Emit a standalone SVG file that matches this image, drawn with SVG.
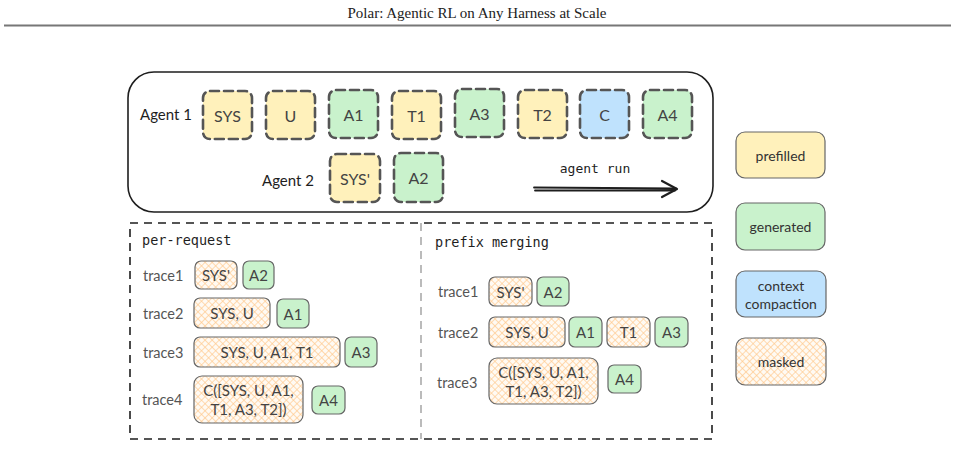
<svg xmlns="http://www.w3.org/2000/svg" width="955" height="471" viewBox="0 0 955 471">
<style>
.hdr{font-family:"Liberation Serif",serif;font-size:15px;fill:#222}
.tok{stroke:#555;stroke-width:2.6;stroke-dasharray:9 5;stroke-linecap:round}
.pf{fill:#fff1bb}.gn{fill:#c9f2cc}.bl{fill:#bfe2fd}
.lbl{font-family:"Lato","Open Sans",sans-serif;font-size:15px;fill:#444;text-anchor:middle;dominant-baseline:central}
.big{font-size:16px}
.agent{font-family:"Lato","Open Sans",sans-serif;font-size:15px;fill:#1e1e1e;dominant-baseline:central}
.trc{font-family:"Lato","Open Sans",sans-serif;font-size:14.5px;fill:#555;dominant-baseline:central}
.sm{stroke:#666;stroke-width:1.2}
.msk{fill:url(#hatch)}
.mono{font-family:"DejaVu Sans Mono",monospace;font-size:13.5px;fill:#1e1e1e}
.leg{font-family:"Lato","Open Sans",sans-serif;font-size:14px;fill:#333;text-anchor:middle;dominant-baseline:central}
.frame{fill:none;stroke:#1e1e1e;stroke-width:1.6;stroke-dasharray:8 6}
</style>
<defs>
<pattern id="hatch" width="5" height="5" patternUnits="userSpaceOnUse" patternTransform="rotate(45)">
<rect width="5" height="5" fill="#fffaf3"/>
<line x1="0" y1="0" x2="0" y2="5" stroke="#ffc88a" stroke-width="1.3"/>
<line x1="0" y1="0" x2="5" y2="0" stroke="#ffc88a" stroke-width="1.3"/>
</pattern>
</defs>
<rect width="955" height="471" fill="#fff"/>
<text class="hdr" x="477" y="18" text-anchor="middle">Polar: Agentic RL on Any Harness at Scale</text>
<line x1="4" y1="25.5" x2="951" y2="25.5" stroke="#777" stroke-width="2"/>

<g id="agent-panel">
<rect x="128" y="72" width="585" height="140" rx="26" fill="none" stroke="#1e1e1e" stroke-width="1.6"/>
<text class="agent" x="140" y="114">Agent 1</text>
<text class="agent" x="262" y="180">Agent 2</text>
</g>
<g id="a1-SYS"><rect class="tok pf" x="203" y="91" width="49" height="48" rx="7"/><text class="lbl big" x="227.5" y="115">SYS</text></g>
<g id="a1-U"><rect class="tok pf" x="266" y="91" width="49" height="48" rx="7"/><text class="lbl big" x="290.5" y="115">U</text></g>
<g id="a1-A1"><rect class="tok gn" x="329" y="90" width="49" height="48" rx="7"/><text class="lbl big" x="353.5" y="114">A1</text></g>
<g id="a1-T1"><rect class="tok pf" x="392" y="91" width="49" height="48" rx="7"/><text class="lbl big" x="416.5" y="115">T1</text></g>
<g id="a1-A3"><rect class="tok gn" x="455" y="89" width="49" height="48" rx="7"/><text class="lbl big" x="479.5" y="113">A3</text></g>
<g id="a1-T2"><rect class="tok pf" x="518" y="90" width="49" height="48" rx="7"/><text class="lbl big" x="542.5" y="114">T2</text></g>
<g id="a1-C"><rect class="tok bl" x="580" y="90" width="49" height="48" rx="7"/><text class="lbl big" x="604.5" y="114">C</text></g>
<g id="a1-A4"><rect class="tok gn" x="643" y="90" width="49" height="48" rx="7"/><text class="lbl big" x="667.5" y="114">A4</text></g>
<g id="a2-SYSp"><rect class="tok pf" x="330" y="154" width="50" height="48" rx="7"/><text class="lbl big" x="355" y="178">SYS'</text></g>
<g id="a2-A2"><rect class="tok gn" x="394" y="153" width="49" height="49" rx="7"/><text class="lbl big" x="418.5" y="177">A2</text></g>

<g id="agent-run">
<text x="595" y="173" text-anchor="middle" style="font-family:'DejaVu Sans Mono',monospace;font-size:13px;fill:#1e1e1e">agent run</text>
<path d="M534 187.5 L676 188.5 M535 190.5 L675 190.5" fill="none" stroke="#1e1e1e" stroke-width="1.8" stroke-linecap="round"/>
<path d="M662 181 L677 189 L662 197" fill="none" stroke="#1e1e1e" stroke-width="2.2" stroke-linecap="round" stroke-linejoin="round"/>
</g>

<g id="frames">
<rect class="frame" x="130" y="223" width="582" height="216"/>
<line x1="421" y1="223" x2="421" y2="439" stroke="#1e1e1e" stroke-width="1" stroke-dasharray="8 6" opacity="0.6"/>
<text class="mono" x="142" y="245">per-request</text>
<text class="mono" x="435" y="247">prefix merging</text>
</g>

<g id="pr-trace1"><text class="trc" x="143" y="275">trace1</text>
<rect class="sm msk" x="195" y="261" width="42" height="28" rx="6"/><text class="lbl" x="216" y="275">SYS'</text>
<rect class="sm gn" x="243" y="261" width="31" height="28" rx="6"/><text class="lbl" x="258.5" y="275">A2</text></g>
<g id="pr-trace2"><text class="trc" x="143" y="313">trace2</text>
<rect class="sm msk" x="194" y="298" width="76" height="30" rx="6"/><text class="lbl" x="232" y="313">SYS, U</text>
<rect class="sm gn" x="277" y="299" width="32" height="29" rx="6"/><text class="lbl" x="293" y="313.5">A1</text></g>
<g id="pr-trace3"><text class="trc" x="143" y="352">trace3</text>
<rect class="sm msk" x="194" y="337" width="146" height="30" rx="6"/><text class="lbl" x="267" y="352">SYS, U, A1, T1</text>
<rect class="sm gn" x="345" y="337" width="32" height="30" rx="6"/><text class="lbl" x="361" y="352">A3</text></g>
<g id="pr-trace4"><text class="trc" x="142" y="399">trace4</text>
<rect class="sm msk" x="194" y="376" width="109" height="47" rx="8"/><text class="lbl" x="248.5" y="390">C([SYS, U, A1,</text><text class="lbl" x="248.5" y="409">T1, A3, T2])</text>
<rect class="sm gn" x="312" y="386" width="33" height="28" rx="6"/><text class="lbl" x="328.5" y="400">A4</text></g>

<g id="pm-trace1"><text class="trc" x="438" y="291">trace1</text>
<rect class="sm msk" x="489" y="277" width="43" height="29" rx="6"/><text class="lbl" x="510.5" y="291.5">SYS'</text>
<rect class="sm gn" x="537" y="277" width="32" height="29" rx="6"/><text class="lbl" x="553" y="291.5">A2</text></g>
<g id="pm-trace2"><text class="trc" x="438" y="332">trace2</text>
<rect class="sm msk" x="489" y="317" width="76" height="30" rx="6"/><text class="lbl" x="527" y="332">SYS, U</text>
<rect class="sm gn" x="569" y="317" width="33" height="30" rx="6"/><text class="lbl" x="585.5" y="332">A1</text>
<rect class="sm msk" x="607" y="317" width="43" height="30" rx="6"/><text class="lbl" x="628.5" y="332">T1</text>
<rect class="sm gn" x="655" y="317" width="33" height="30" rx="6"/><text class="lbl" x="671.5" y="332">A3</text></g>
<g id="pm-trace3"><text class="trc" x="437" y="382">trace3</text>
<rect class="sm msk" x="489" y="358" width="109" height="46" rx="8"/><text class="lbl" x="543.5" y="372">C([SYS, U, A1,</text><text class="lbl" x="543.5" y="391">T1, A3, T2])</text>
<rect class="sm gn" x="608" y="365" width="33" height="28" rx="6"/><text class="lbl" x="624.5" y="379">A4</text></g>

<g id="legend-prefilled"><rect class="sm pf" x="736" y="132" width="89" height="46" rx="9"/><text class="leg" x="780.5" y="155">prefilled</text></g>
<g id="legend-generated"><rect class="sm gn" x="736" y="203" width="89" height="47" rx="9"/><text class="leg" x="780.5" y="226.5">generated</text></g>
<g id="legend-compaction"><rect class="sm bl" x="736" y="271" width="90" height="46" rx="9"/><text class="leg" x="781" y="285">context</text><text class="leg" x="781" y="303">compaction</text></g>
<g id="legend-masked"><rect class="sm msk" x="736" y="338" width="90" height="47" rx="9"/><text class="leg" x="781" y="361.5">masked</text></g>
</svg>
